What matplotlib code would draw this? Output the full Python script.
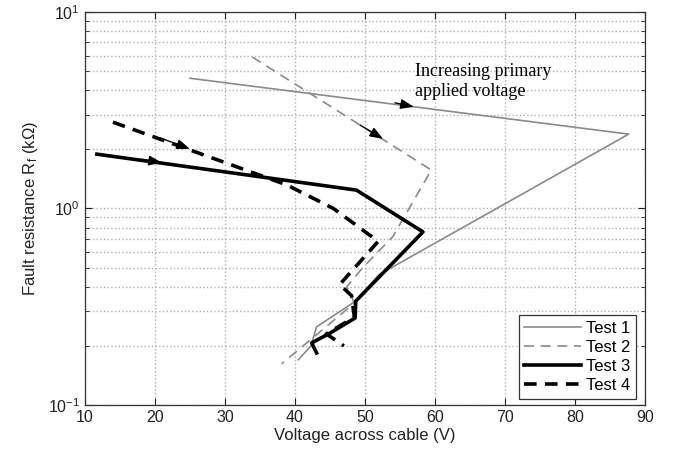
import matplotlib
matplotlib.use("Agg")
import matplotlib.pyplot as plt

plt.rcParams['font.family'] = ['Liberation Sans', 'DejaVu Sans']
plt.rcParams['mathtext.default'] = 'regular'

# Test data (voltage in V, resistance in kOhm)
test1_v = [25.0, 87.7, 52.0, 48.8, 43.1, 42.3, 40.5]
test1_r = [4.6, 2.39, 0.46, 0.34, 0.25, 0.20, 0.17]

test2_v = [33.9, 59.5, 54.0, 49.7, 47.4, 48.5, 38.1]
test2_r = [5.9, 1.57, 0.72, 0.50, 0.40, 0.33, 0.162]

test3_v = [11.7, 48.8, 58.3, 48.7, 48.6, 45.0, 42.4, 43.1]
test3_r = [1.89, 1.24, 0.76, 0.338, 0.277, 0.232, 0.207, 0.184]

test4_v = [14.0, 38.8, 45.5, 51.9, 46.4, 48.1, 48.5, 44.5, 47.0]
test4_r = [2.75, 1.32, 1.0, 0.68, 0.41, 0.36, 0.28, 0.23, 0.20]

# arrows: (tail_v, tail_r, head_v, head_r)
arrows = [
    (54.3, 3.45, 57.0, 3.29),
    (49.3, 2.66, 52.6, 2.26),
    (20.7, 2.29, 25.0, 2.01),
    (18.0, 1.78, 21.0, 1.71),
]

fig = plt.figure(figsize=(6.81, 4.57), dpi=100)
ax = fig.add_axes([0.1248, 0.1138, 0.822, 0.86])

ax.plot(test1_v, test1_r, color="#8a8a8a", lw=1.2, label="Test 1")
ax.plot(test2_v, test2_r, color="#8a8a8a", lw=1.2, ls=(0, (6, 4)), label="Test 2")
ax.plot(test3_v, test3_r, color="black", lw=2.6, label="Test 3")
ax.plot(test4_v, test4_r, color="black", lw=2.6, ls=(0, (3.5, 2.3)), label="Test 4")

for tv, tr, hv, hr in arrows:
    ax.annotate("", xy=(hv, hr), xytext=(tv, tr),
                arrowprops=dict(arrowstyle="-|>,head_length=0.8,head_width=0.3",
                                color="black", lw=1.0, shrinkA=0, shrinkB=0))

ax.text(57.1, 5.5, "Increasing primary\napplied voltage", family="Liberation Serif",
        fontsize=13, va="top", ha="left", linespacing=1.25)

ax.set_yscale("log")
ax.set_xlim(10, 90)
ax.set_ylim(0.1, 10)
ax.set_xticks(range(10, 91, 10))

ax.grid(True, which="major", axis="x", color="#b0b0b0", ls=":", lw=1.0)
ax.grid(True, which="both", axis="y", color="#b0b0b0", ls=":", lw=1.0)
ax.tick_params(which="both", direction="in", top=True, right=True, labelsize=11.5,
               colors="#222222")
ax.tick_params(which="major", length=5)
ax.tick_params(which="minor", length=3)
for s in ax.spines.values():
    s.set_color("#333333")
    s.set_linewidth(0.9)

ax.set_xlabel("Voltage across cable (V)", fontsize=12, color="#222222", labelpad=2)
ax.set_ylabel("Fault resistance R$_f$ (k\u03a9)", fontsize=12, color="#222222", labelpad=6)

leg = ax.legend(loc="lower right", bbox_to_anchor=(0.985, 0.015), fontsize=12,
                fancybox=False, framealpha=1, edgecolor="#333333", handlelength=3.4,
                borderpad=0.35, labelspacing=0.25, handletextpad=0.3, borderaxespad=0.0)
leg.get_frame().set_linewidth(0.9)

fig.savefig("out.png", dpi=100)
